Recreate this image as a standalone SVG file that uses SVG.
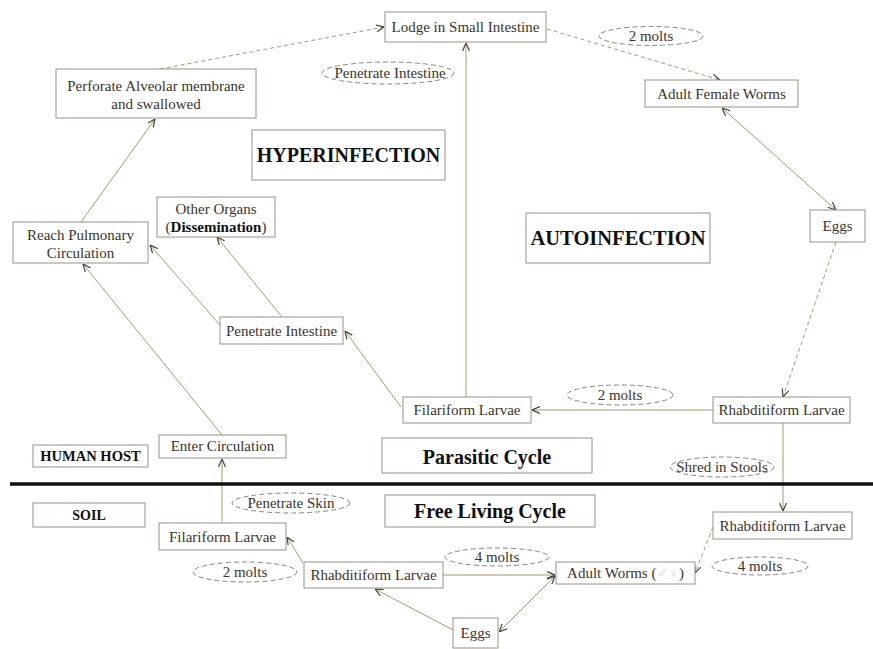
<svg xmlns="http://www.w3.org/2000/svg" width="873" height="649" viewBox="0 0 873 649">
<defs>
<marker id="arr" viewBox="0 0 8 8" refX="8" refY="4" markerWidth="8" markerHeight="8" markerUnits="userSpaceOnUse" orient="auto-start-reverse">
<path d="M0,0.5 L8,4 L0,7.5" fill="none" stroke="#4a4035" stroke-width="1.2"/>
</marker>
</defs>
<style>
.box{fill:#fff;stroke:#9a9282;stroke-width:1}
.ell{fill:#fff;stroke:#8a8478;stroke-width:1;stroke-dasharray:5 3}
.t{font-family:"Liberation Serif","Times New Roman",serif;font-size:15px;fill:#3a342c;text-anchor:middle}
.b{font-family:"Liberation Serif","Times New Roman",serif;font-weight:bold;fill:#111;text-anchor:middle}
.c{fill:none;stroke:#a8996c;stroke-width:1;marker-end:url(#arr)}
.d{stroke-dasharray:4 3}
.two{marker-start:url(#arr)}
</style>
<rect width="873" height="649" fill="#fff"/>

<g id="connectors">
<line class="c d" x1="160" y1="69" x2="384" y2="27"/>
<line class="c d" x1="547" y1="29" x2="720" y2="80"/>
<line class="c two" x1="722" y1="108" x2="836" y2="210"/>
<line class="c d" x1="836" y1="242" x2="783" y2="397"/>
<line class="c" x1="713" y1="410" x2="532" y2="410"/>
<line class="c" x1="466" y1="397" x2="466" y2="43"/>
<line class="c" x1="401" y1="407" x2="345" y2="331"/>
<line class="c" x1="282" y1="317" x2="217" y2="237"/>
<line class="c" x1="220" y1="325" x2="150" y2="245"/>
<line class="c" x1="222" y1="435" x2="83" y2="264"/>
<line class="c" x1="81" y1="222" x2="155" y2="119"/>
<line class="c" x1="222" y1="523" x2="222" y2="459"/>
<line class="c" x1="303" y1="563" x2="287" y2="537"/>
<line class="c" x1="443" y1="575" x2="555" y2="575"/>
<line class="c two" x1="555" y1="576" x2="499" y2="632"/>
<line class="c" x1="453" y1="630" x2="375" y2="589"/>
<line class="c" x1="783" y1="423" x2="783" y2="511"/>
<line class="c d" x1="713" y1="527" x2="695" y2="573"/>
</g>

<line id="divider" x1="10" y1="484" x2="873" y2="484" stroke="#111" stroke-width="3.5"/>

<g id="lodge"><rect class="box" x="385" y="12" width="161" height="30"/><text class="t" x="465.5" y="32">Lodge in Small Intestine</text></g>
<g id="lbl-penetrate-intestine"><ellipse class="ell" cx="388" cy="73" rx="66" ry="11"/><text class="t" x="390" y="78">Penetrate Intestine</text></g>
<g id="lbl-2molts-top"><ellipse class="ell" cx="651" cy="36" rx="52" ry="9.5"/><text class="t" x="651" y="41">2 molts</text></g>
<g id="adult-female"><rect class="box" x="645" y="80" width="153" height="27"/><text class="t" x="721.5" y="99">Adult Female Worms</text></g>
<g id="perforate"><rect class="box" x="56" y="69" width="200" height="49"/><text class="t" x="156" y="91">Perforate Alveolar membrane</text><text class="t" x="156" y="109">and swallowed</text></g>
<g id="hyperinfection"><rect class="box" x="252" y="130" width="193" height="50"/><text class="b" x="348.5" y="162" font-size="20">HYPERINFECTION</text></g>
<g id="autoinfection"><rect class="box" x="526" y="213" width="184" height="50"/><text class="b" x="618" y="245" font-size="20.5">AUTOINFECTION</text></g>
<g id="eggs-top"><rect class="box" x="810" y="210" width="55" height="32"/><text class="t" x="837.5" y="231">Eggs</text></g>
<g id="reach-pulmonary"><rect class="box" x="13" y="222" width="135" height="41"/><text class="t" x="80.5" y="240">Reach Pulmonary</text><text class="t" x="80.5" y="258">Circulation</text></g>
<g id="other-organs"><rect class="box" x="157" y="197" width="118" height="40"/><text class="t" x="216" y="214">Other Organs</text><text class="t" x="216" y="232">(<tspan font-weight="bold" fill="#111">Dissemination</tspan>)</text></g>
<g id="penetrate-intestine"><rect class="box" x="220" y="317" width="123" height="27"/><text class="t" x="281.5" y="336">Penetrate Intestine</text></g>
<g id="filariform-top"><rect class="box" x="403" y="397" width="128" height="26"/><text class="t" x="467" y="415">Filariform Larvae</text></g>
<g id="lbl-2molts-mid"><ellipse class="ell" cx="620" cy="395" rx="53" ry="10"/><text class="t" x="620" y="400">2 molts</text></g>
<g id="rhabditiform-top"><rect class="box" x="713" y="397" width="137" height="26"/><text class="t" x="781.5" y="415">Rhabditiform Larvae</text></g>
<g id="lbl-shred"><ellipse class="ell" cx="722" cy="467" rx="52" ry="10"/><text class="t" x="722" y="472">Shred in Stools</text></g>
<g id="parasitic-cycle"><rect class="box" x="382" y="438" width="210" height="35"/><text class="b" x="487" y="464" font-size="20">Parasitic Cycle</text></g>
<g id="human-host"><rect class="box" x="33" y="445" width="115" height="22"/><text class="b" x="90.5" y="461" font-size="14.5">HUMAN HOST</text></g>
<g id="enter-circulation"><rect class="box" x="159" y="435" width="127" height="23"/><text class="t" x="222.5" y="451">Enter Circulation</text></g>
<g id="soil"><rect class="box" x="33" y="503" width="112" height="24"/><text class="b" x="89" y="520" font-size="14">SOIL</text></g>
<g id="lbl-penetrate-skin"><ellipse class="ell" cx="291" cy="503" rx="59" ry="10"/><text class="t" x="291" y="508">Penetrate Skin</text></g>
<g id="free-living-cycle"><rect class="box" x="385" y="495" width="210" height="32"/><text class="b" x="490" y="518" font-size="20">Free Living Cycle</text></g>
<g id="filariform-bottom"><rect class="box" x="159" y="523" width="127" height="27"/><text class="t" x="222.5" y="542">Filariform Larvae</text></g>
<g id="lbl-2molts-bottom"><ellipse class="ell" cx="245" cy="572" rx="52" ry="10"/><text class="t" x="245" y="577">2 molts</text></g>
<g id="rhabditiform-bottom"><rect class="box" x="304" y="562" width="139" height="26"/><text class="t" x="373.5" y="580">Rhabditiform Larvae</text></g>
<g id="lbl-4molts-mid"><ellipse class="ell" cx="497" cy="557" rx="52" ry="9"/><text class="t" x="497" y="562">4 molts</text></g>
<g id="adult-worms"><rect class="box" x="556" y="562" width="139" height="22"/><text class="t" x="625.5" y="578">Adult Worms (<tspan fill="#d8d4cc">♂♀</tspan>)</text></g>
<g id="rhabditiform-right"><rect class="box" x="713" y="512" width="139" height="27"/><text class="t" x="782.5" y="531">Rhabditiform Larvae</text></g>
<g id="lbl-4molts-right"><ellipse class="ell" cx="760" cy="566" rx="48" ry="9"/><text class="t" x="760" y="571">4 molts</text></g>
<g id="eggs-bottom"><rect class="box" x="453" y="618" width="45" height="30"/><text class="t" x="475.5" y="638">Eggs</text></g>
</svg>
